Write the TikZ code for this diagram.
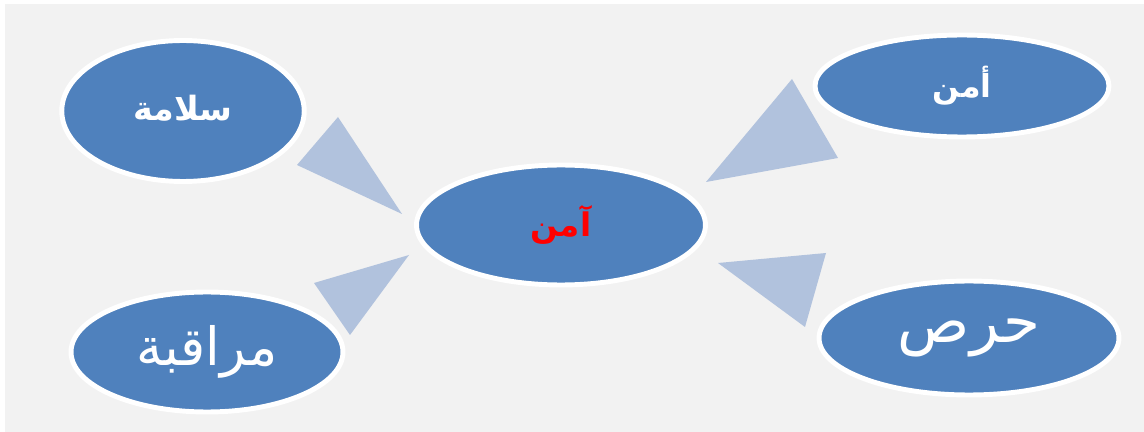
\documentclass[tikz,border=0pt]{standalone}
\usepackage{fontspec}
\newfontfamily\arabicfont[Script=Arabic]{DejaVu Sans}
\TeXXeTstate=1
\usetikzlibrary{shapes.geometric}
\definecolor{ovalblue}{HTML}{4F81BD}
\definecolor{arrowblue}{HTML}{B1C2DD}
\definecolor{backgray}{HTML}{F2F2F2}
\tikzset{
  oval/.style={ellipse, fill=ovalblue, draw=white, line width=2.8pt, inner sep=0pt, text=white},
  wedge/.style={fill=arrowblue, draw=none}
}
\begin{document}
\begin{tikzpicture}[x=0.02cm, y=-0.02cm]
  \useasboundingbox (0,0) rectangle (1144,432);
  \fill[backgray] (5,4) rectangle (1144,432);
  % ovals
  \node[oval, minimum width=4.85cm, minimum height=2.82cm] (salama) at (183,111) {\arabicfont\bfseries\fontsize{19}{22}\selectfont\raisebox{4pt}{\beginR سلامة\endR}};
  \node[oval, minimum width=5.44cm, minimum height=2.4cm] (muraqaba) at (207,352) {\arabicfont\fontsize{30}{34}\selectfont\beginR مراقبة\endR};
  \node[oval, minimum width=5.78cm, minimum height=2.4cm] (amn) at (561,225) {\arabicfont\bfseries\fontsize{18.5}{22}\selectfont\color{red}\beginR آمن\endR};
  \node[oval, minimum width=5.88cm, minimum height=2.04cm] (amn2) at (962,86) {\arabicfont\bfseries\fontsize{18}{22}\selectfont\raisebox{5pt}{\beginR أمن\endR}};
  \node[oval, minimum width=6cm, minimum height=2.28cm] (haras) at (969,338) {\arabicfont\fontsize{34}{38}\selectfont\beginR حرص\endR};
  % wedges
  \fill[wedge] (338,117) -- (297,165) -- (402,214) -- cycle;
  \fill[wedge] (409,255) -- (314,283) -- (350,335) -- cycle;
  \fill[wedge] (792,79) -- (838,158) -- (706,182) -- cycle;
  \fill[wedge] (826,253) -- (718,263) -- (805,327) -- cycle;
\end{tikzpicture}
\end{document}
